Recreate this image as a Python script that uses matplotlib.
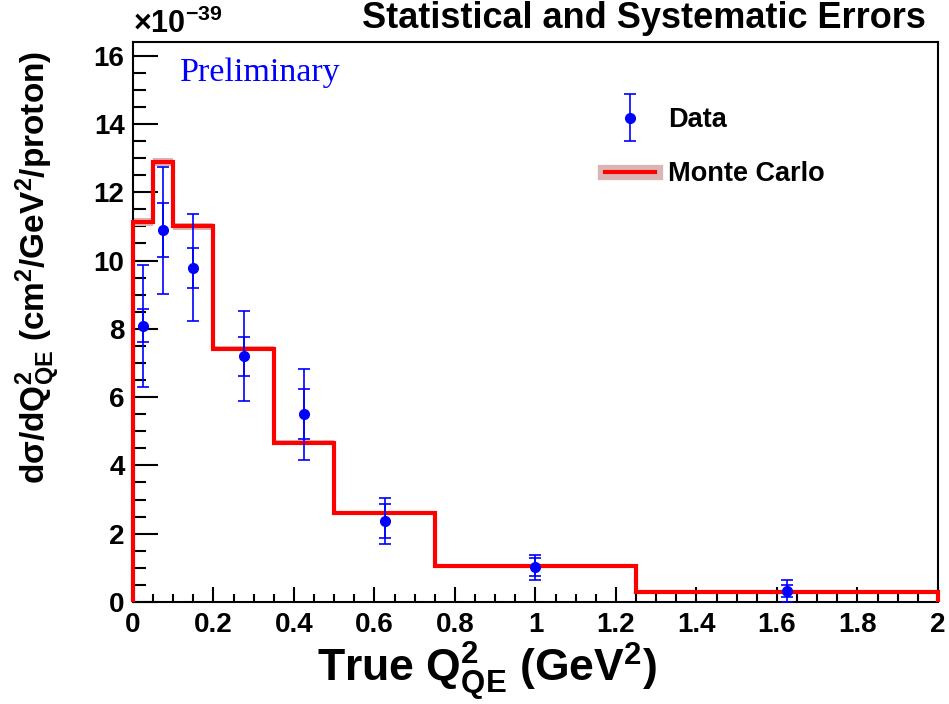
import matplotlib
matplotlib.use('Agg')
import matplotlib.pyplot as plt
from matplotlib.lines import Line2D
from matplotlib.container import ErrorbarContainer
from matplotlib.legend_handler import HandlerErrorbar
from matplotlib.ticker import MultipleLocator
import numpy as np

plt.rcParams['font.family'] = ['Liberation Sans', 'DejaVu Sans']
plt.rcParams['font.weight'] = 'bold'
plt.rcParams['mathtext.fontset'] = 'custom'
plt.rcParams['mathtext.rm'] = 'Liberation Sans:bold'
plt.rcParams['mathtext.it'] = 'Liberation Sans:bold'
plt.rcParams['mathtext.bf'] = 'Liberation Sans:bold'

# values in units of 1e-39 cm^2/GeV^2/proton
mc_edges = [0.0, 0.05, 0.1, 0.2, 0.35, 0.5, 0.75, 1.25, 2.0]
mc_values = [11.13, 12.89, 11.00, 7.42, 4.67, 2.62, 1.06, 0.30]
mc_err = [0.12, 0.12, 0.10, 0.08, 0.06, 0.04, 0.03, 0.02]

data_x = [0.025, 0.075, 0.15, 0.275, 0.425, 0.625, 1.0, 1.625]
data_y = [8.09, 10.89, 9.79, 7.20, 5.50, 2.37, 1.02, 0.33]
stat_err = [0.48, 0.80, 0.58, 0.57, 0.73, 0.50, 0.26, 0.17]
total_err = [1.79, 1.86, 1.57, 1.32, 1.33, 0.68, 0.37, 0.32]

fig = plt.figure(figsize=(9.49, 7.04), dpi=100)
ax = fig.add_axes([0.1401, 0.1449, 0.8483, 0.7954])

edges = np.array(mc_edges)
vals = np.array(mc_values)
err = np.array(mc_err)

# MC band (systematic) and histogram
ax.stairs(vals + err, edges, baseline=vals - err, fill=True,
          facecolor='#d9b5b5', edgecolor='none', zorder=2)
ax.stairs(vals, edges, baseline=0, color='#ff0000', linewidth=3,
          zorder=3, clip_on=False)

# data: total (outer) and statistical (inner) error bars
blue = '#0000ff'
outer = ax.errorbar(data_x, data_y, yerr=total_err, fmt='o', color=blue,
                    markersize=7, elinewidth=1.2, capsize=4.5, capthick=1.2,
                    zorder=5)
ax.errorbar(data_x, data_y, yerr=stat_err, fmt='none', ecolor=blue,
            elinewidth=1.2, capsize=4.5, capthick=1.2, zorder=5)

ax.set_xlim(0, 2)
ax.set_ylim(0, 16.4)
ax.xaxis.set_minor_locator(MultipleLocator(0.05))
ax.yaxis.set_major_locator(MultipleLocator(2))
ax.yaxis.set_minor_locator(MultipleLocator(0.5))
ax.set_xticks(np.arange(0, 2.01, 0.2))
ax.set_xticklabels(['0', '0.2', '0.4', '0.6', '0.8', '1', '1.2', '1.4', '1.6', '1.8', '2'])

ax.tick_params(axis='y', which='major', direction='in', length=18, width=1.5,
               labelsize=20, pad=6)
ax.tick_params(axis='y', which='minor', direction='in', length=9, width=1.5)
ax.tick_params(axis='x', which='major', direction='in', length=11, width=1.5,
               labelsize=20, pad=7)
ax.tick_params(axis='x', which='minor', direction='in', length=6, width=1.5)
for sp in ax.spines.values():
    sp.set_linewidth(1.5)

ax.set_xlabel(r'True Q$^{2}_{QE}$ (GeV$^{2}$)', fontsize=32, fontweight='bold')
ax.xaxis.set_label_coords(0.44, -0.068)
ax.set_ylabel(r'd$\sigma$/dQ$^{2}_{QE}$ (cm$^{2}$/GeV$^{2}$/proton)',
              fontsize=24, fontweight='bold', loc='top')
ax.yaxis.set_label_coords(-0.088, 0.985)

fig.text(0.976, 0.974, 'Statistical and Systematic Errors', ha='right',
         va='center', fontsize=26, fontweight='bold')
fig.text(0.1401, 0.966, r'$\times$10$^{-39}$', ha='left', va='center',
         fontsize=22, fontweight='bold')
ax.text(0.058, 0.945, 'Preliminary', transform=ax.transAxes, color=blue,
        family='Liberation Serif', fontweight='normal', fontsize=24.5,
        ha='left', va='center')

mc_handle = (Line2D([], [], color='#d9b5b5', linewidth=11),
             Line2D([], [], color='#ff0000', linewidth=3))
ax.legend([outer, mc_handle], ['Data', 'Monte Carlo'], loc='upper left',
          bbox_to_anchor=(0.586, 0.884), frameon=False, fontsize=19.5,
          handlelength=1.85, handletextpad=0.5, labelspacing=1.05,
          borderpad=0, borderaxespad=0,
          handler_map={ErrorbarContainer: HandlerErrorbar(xerr_size=0.3, yerr_size=0.85)})

fig.savefig('out.png', dpi=100)
